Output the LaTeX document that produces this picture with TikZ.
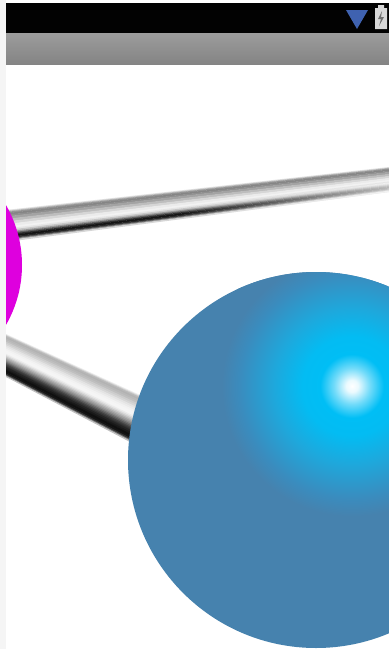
\documentclass[tikz,border=0pt]{standalone}
\usetikzlibrary{calc,fadings}
\definecolor{margin}{HTML}{F5F5F5}
\definecolor{barblack}{HTML}{020202}
\definecolor{bartop}{HTML}{9C9C9C}
\definecolor{barlow}{HTML}{848484}
\definecolor{wedge}{HTML}{3F62B0}
\definecolor{battery}{HTML}{D8D8D8}
\definecolor{bolt}{HTML}{707070}
\definecolor{magentaatom}{HTML}{DE00DE}
\definecolor{steel}{HTML}{4682AE}
\definecolor{cyanglow}{HTML}{00BEF5}
\definecolor{cyanmid}{HTML}{1EA8DC}
\definecolor{cyanlow}{HTML}{3A8CBE}
\pgfdeclareradialshading{atomglow}{\pgfpoint{0bp}{0bp}}{
  color(0bp)=(white);color(1bp)=(white!92!cyanglow);color(3bp)=(cyanglow!55!white);
  color(5.3bp)=(cyanglow);color(8.3bp)=(cyanglow!90!cyanmid);color(13bp)=(cyanmid);color(18.7bp)=(cyanlow);
  color(21.7bp)=(steel);color(50bp)=(steel)}
% one band per grey value, ending at the given place across the rod
\newcommand{\rodbands}[5]{
  \foreach \pos/\lev [remember=\pos as \lastpos (initially 0)] in {#5} {
    \pgfmathsetmacro{\overpos}{\pos+.012}
    \fill[black!\lev!white] ($(#1)!\lastpos!(#3)$) -- ($(#2)!\lastpos!(#4)$)
      -- ($(#2)!\overpos!(#4)$) -- ($(#1)!\overpos!(#3)$) -- cycle;
  }
}
\begin{document}
\begin{tikzpicture}[x=.5pt,y=-.5pt]
  \useasboundingbox (0,0) rectangle (389,649);
  \fill[white] (0,0) rectangle (389,649);
  \fill[margin] (0,0) rectangle (6,649);
  \fill[barblack] (6,3) rectangle (389,33);
  \shade[top color=bartop,bottom color=barlow] (6,33) rectangle (389,64);
  \fill[wedge] (346,10) -- (368,10) -- (357,29) -- cycle;
  \fill[battery] (375,8) rectangle (387,29) (378,5) rectangle (384,8);
  \fill[bolt] (382,11) -- (378,19) -- (381,19) -- (379,26) -- (384,17) -- (381,17) -- cycle;
  \begin{scope}
    \clip (6,64) rectangle (389,649);
    % upper rod
    \coordinate (ua) at (6,210);
    \coordinate (ub) at (389,167);
    \coordinate (uc) at (6,242);
    \coordinate (ud) at (389,192);
    \rodbands{ua}{ub}{uc}{ud}{.03/12,.06/28,.1/42,.15/48,.2/44,.28/36,.36/26,.44/16,.52/8,.58/5,.63/10,.68/22,.72/40,.76/62,.8/82,.85/92,.89/85,.92/68,.95/42,.988/16}
    \coordinate (um) at ($(ua)!.45!(ub)$);
    \coordinate (un) at ($(uc)!.45!(ud)$);
    \fill[white,opacity=.7,path fading=west] ($(um)!.62!(un)$) -- ($(ub)!.62!(ud)$) -- (ud) -- (un) -- cycle;
    % lower rod
    \coordinate (la) at (6,334);
    \coordinate (lb) at (140,395);
    \coordinate (lc) at (6,377);
    \coordinate (ld) at (130,442);
    \rodbands{la}{lb}{lc}{ld}{.02/8,.04/18,.07/27,.1/30,.14/28,.18/25,.22/20,.26/16,.3/11,.34/8,.38/5,.42/4,.46/4,.49/8,.52/14,.55/22,.58/30,.61/38,.64/46,.67/56,.7/65,.73/74,.76/80,.8/86,.84/90,.88/94,.92/92,.95/80,.97/55,.988/25}
    % atoms
    \fill[magentaatom] (-98,265) circle (120);
    \fill[steel] (316,460) circle (188);
    \clip (316,460) circle (188);
    \shade[shading=atomglow] (352,386) circle (150);
  \end{scope}
\end{tikzpicture}
\end{document}
